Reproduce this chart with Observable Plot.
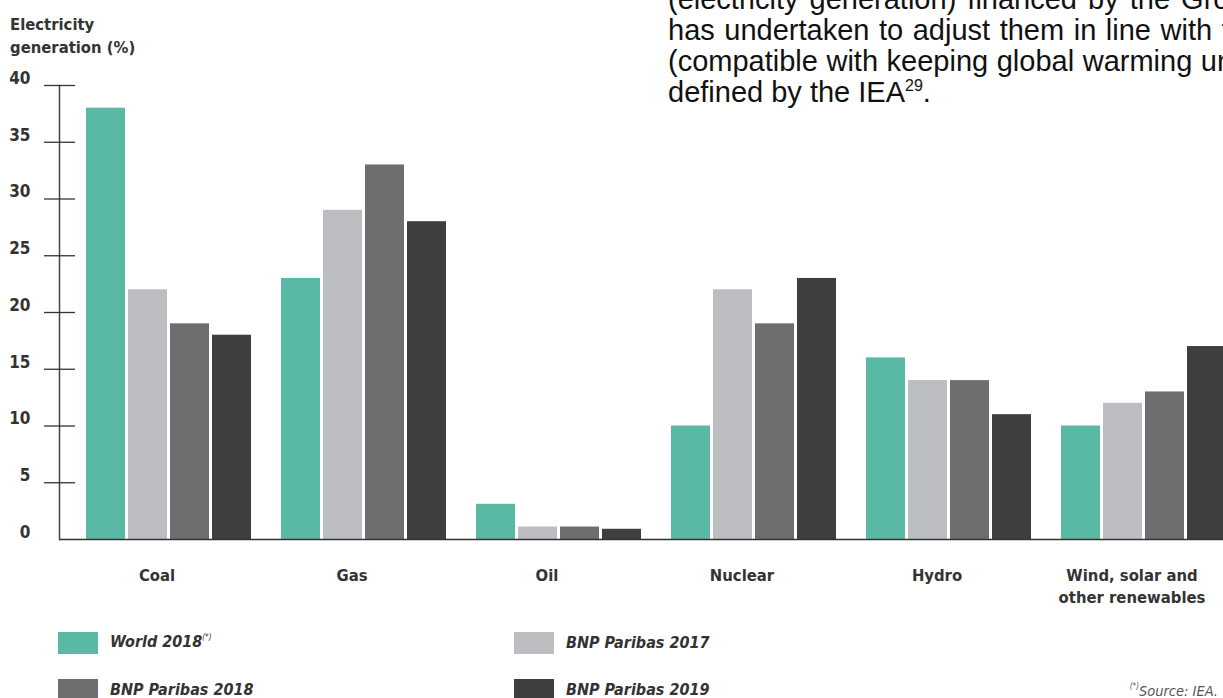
<!DOCTYPE html>
<html>
<head>
<meta charset="utf-8">
<script src="https://cdn.jsdelivr.net/npm/d3@7"></script>
<script src="https://cdn.jsdelivr.net/npm/@observablehq/plot@0.6"></script>
<style>
  html, body { margin: 0; padding: 0; background: #fff; overflow: hidden; }
  #page { position: relative; width: 1223px; height: 698px; overflow: hidden; }
  #chart { position: absolute; left: 0; top: 0; width: 1229px; }
  .body-text { position: absolute; left: 668px; top: -16px; font-family: "Liberation Sans", Arial, sans-serif;
    font-size: 29px; line-height: 31px; color: #111; white-space: nowrap; }
  .body-text sup { font-size: 16px; vertical-align: baseline; position: relative; top: -11px; }
  .ytitle { position: absolute; left: 10px; top: 13px; font-family: "DejaVu Sans Condensed", "DejaVu Sans", sans-serif;
    font-weight: bold; font-size: 16.5px; line-height: 23px; color: #333; }
  .legend { position: absolute; left: 58px; top: 632px; display: grid; grid-template-columns: 456px 456px; row-gap: 24.5px;
    font-family: "DejaVu Sans Condensed", "DejaVu Sans", sans-serif; font-weight: bold; font-style: italic; font-size: 16px; color: #333; }
  .legend .item { display: flex; align-items: center; height: 22px; line-height: 22px; }
  .legend .sw { width: 40px; height: 22px; margin-right: 12px; flex: none; }
  .legend sup, .foot sup { font-size: 8px; font-weight: normal; vertical-align: baseline; position: relative; top: -7px; }
  .foot { position: absolute; right: 5px; top: 683px; font-family: "DejaVu Sans Condensed", "DejaVu Sans", sans-serif;
    font-style: italic; font-size: 14.5px; line-height: 16px; color: #555; }
</style>
</head>
<body>
<div id="page">
  <div id="chart"></div>
  <div class="body-text">
    <div style="word-spacing:3px">(electricity generation) financed by the Group</div>
    <div style="word-spacing:1.5px">has undertaken to adjust them in line with the</div>
    <div style="word-spacing:0.5px">(compatible with keeping global warming under</div>
    <div>defined by the IEA<sup>29</sup>.</div>
  </div>
  <div class="ytitle">Electricity<br>generation (%)</div>
  <div class="legend" id="legend"></div>
  <div class="foot"><sup>(*)</sup>Source: IEA.</div>
</div>
<script>
const categories = ["Coal", "Gas", "Oil", "Nuclear", "Hydro", "Wind, solar and other renewables"];
const categoryLabels = ["Coal", "Gas", "Oil", "Nuclear", "Hydro", "Wind, solar and\nother renewables"];
const series = ["World 2018", "BNP Paribas 2017", "BNP Paribas 2018", "BNP Paribas 2019"];
const colors = ["#5ab9a4", "#bdbec1", "#6d6e70", "#3f3f41"];
const world2018 = [38, 23, 3.1, 10, 16, 10];
const bnp2017 = [22, 29, 1.1, 22, 14, 12];
const bnp2018 = [19, 33, 1.1, 19, 14, 13];
const bnp2019 = [18, 28, 0.9, 23, 11, 17];
const yTicks = [0, 5, 10, 15, 20, 25, 30, 35, 40];
const legendOrder = ["World 2018", "BNP Paribas 2017", "BNP Paribas 2018", "BNP Paribas 2019"];

const seriesValues = [world2018, bnp2017, bnp2018, bnp2019];
const data = categories.flatMap((c, i) => series.map((s, j) => ({category: c, series: s, value: seriesValues[j][i]})));
const labelOf = new Map(categories.map((c, i) => [c, categoryLabels[i]]));

const chart = Plot.plot({
  width: 1229,
  height: 610,
  marginTop: 85,
  marginBottom: 71,
  marginLeft: 59,
  marginRight: 0,
  style: {fontFamily: "'DejaVu Sans Condensed', 'DejaVu Sans', sans-serif", fontSize: "16.5px", color: "#333",
          background: "transparent", maxWidth: "none", overflow: "visible"},
  fx: {domain: categories, paddingInner: 0, paddingOuter: 0, label: null},
  x: {domain: series, axis: null, paddingInner: 0.07, paddingOuter: 0.3025, align: 0.892},
  y: {domain: [0, 40], label: null},
  color: {domain: series, range: colors},
  marks: [
    Plot.barY(data, {fx: "category", x: "series", y: "value", fill: "series"}),
    Plot.ruleY([0], {stroke: "#333", strokeWidth: 1.5}),
    Plot.frame({anchor: "left", facetAnchor: "left", stroke: "#444", strokeWidth: 1.5}),
    Plot.axisY({ticks: yTicks.filter(d => d > 0), tickSize: 31, dx: 16, fill: "none", label: null, stroke: "#333", strokeWidth: 1.3}),
    Plot.axisY({ticks: yTicks, tickSize: 0, tickPadding: 29, dy: -7, label: null, fontSize: 17, fontWeight: "bold", fill: "#333"}),
    Plot.axisFx({anchor: "bottom", tickSize: 0, tickPadding: 26, label: null, tickFormat: d => labelOf.get(d),
                 fontSize: 16.5, fontWeight: "bold", lineHeight: 1.333, fill: "#333"})
  ]
});
document.getElementById("chart").appendChild(chart);

const legend = document.getElementById("legend");
for (const s of legendOrder) {
  const item = document.createElement("div");
  item.className = "item";
  const sw = document.createElement("div");
  sw.className = "sw";
  sw.style.background = colors[series.indexOf(s)];
  const label = document.createElement("span");
  label.textContent = s;
  item.appendChild(sw);
  item.appendChild(label);
  if (s === "World 2018") {
    const sup = document.createElement("sup");
    sup.textContent = "(*)";
    label.appendChild(sup);
  }
  legend.appendChild(item);
}
</script>
</body>
</html>
